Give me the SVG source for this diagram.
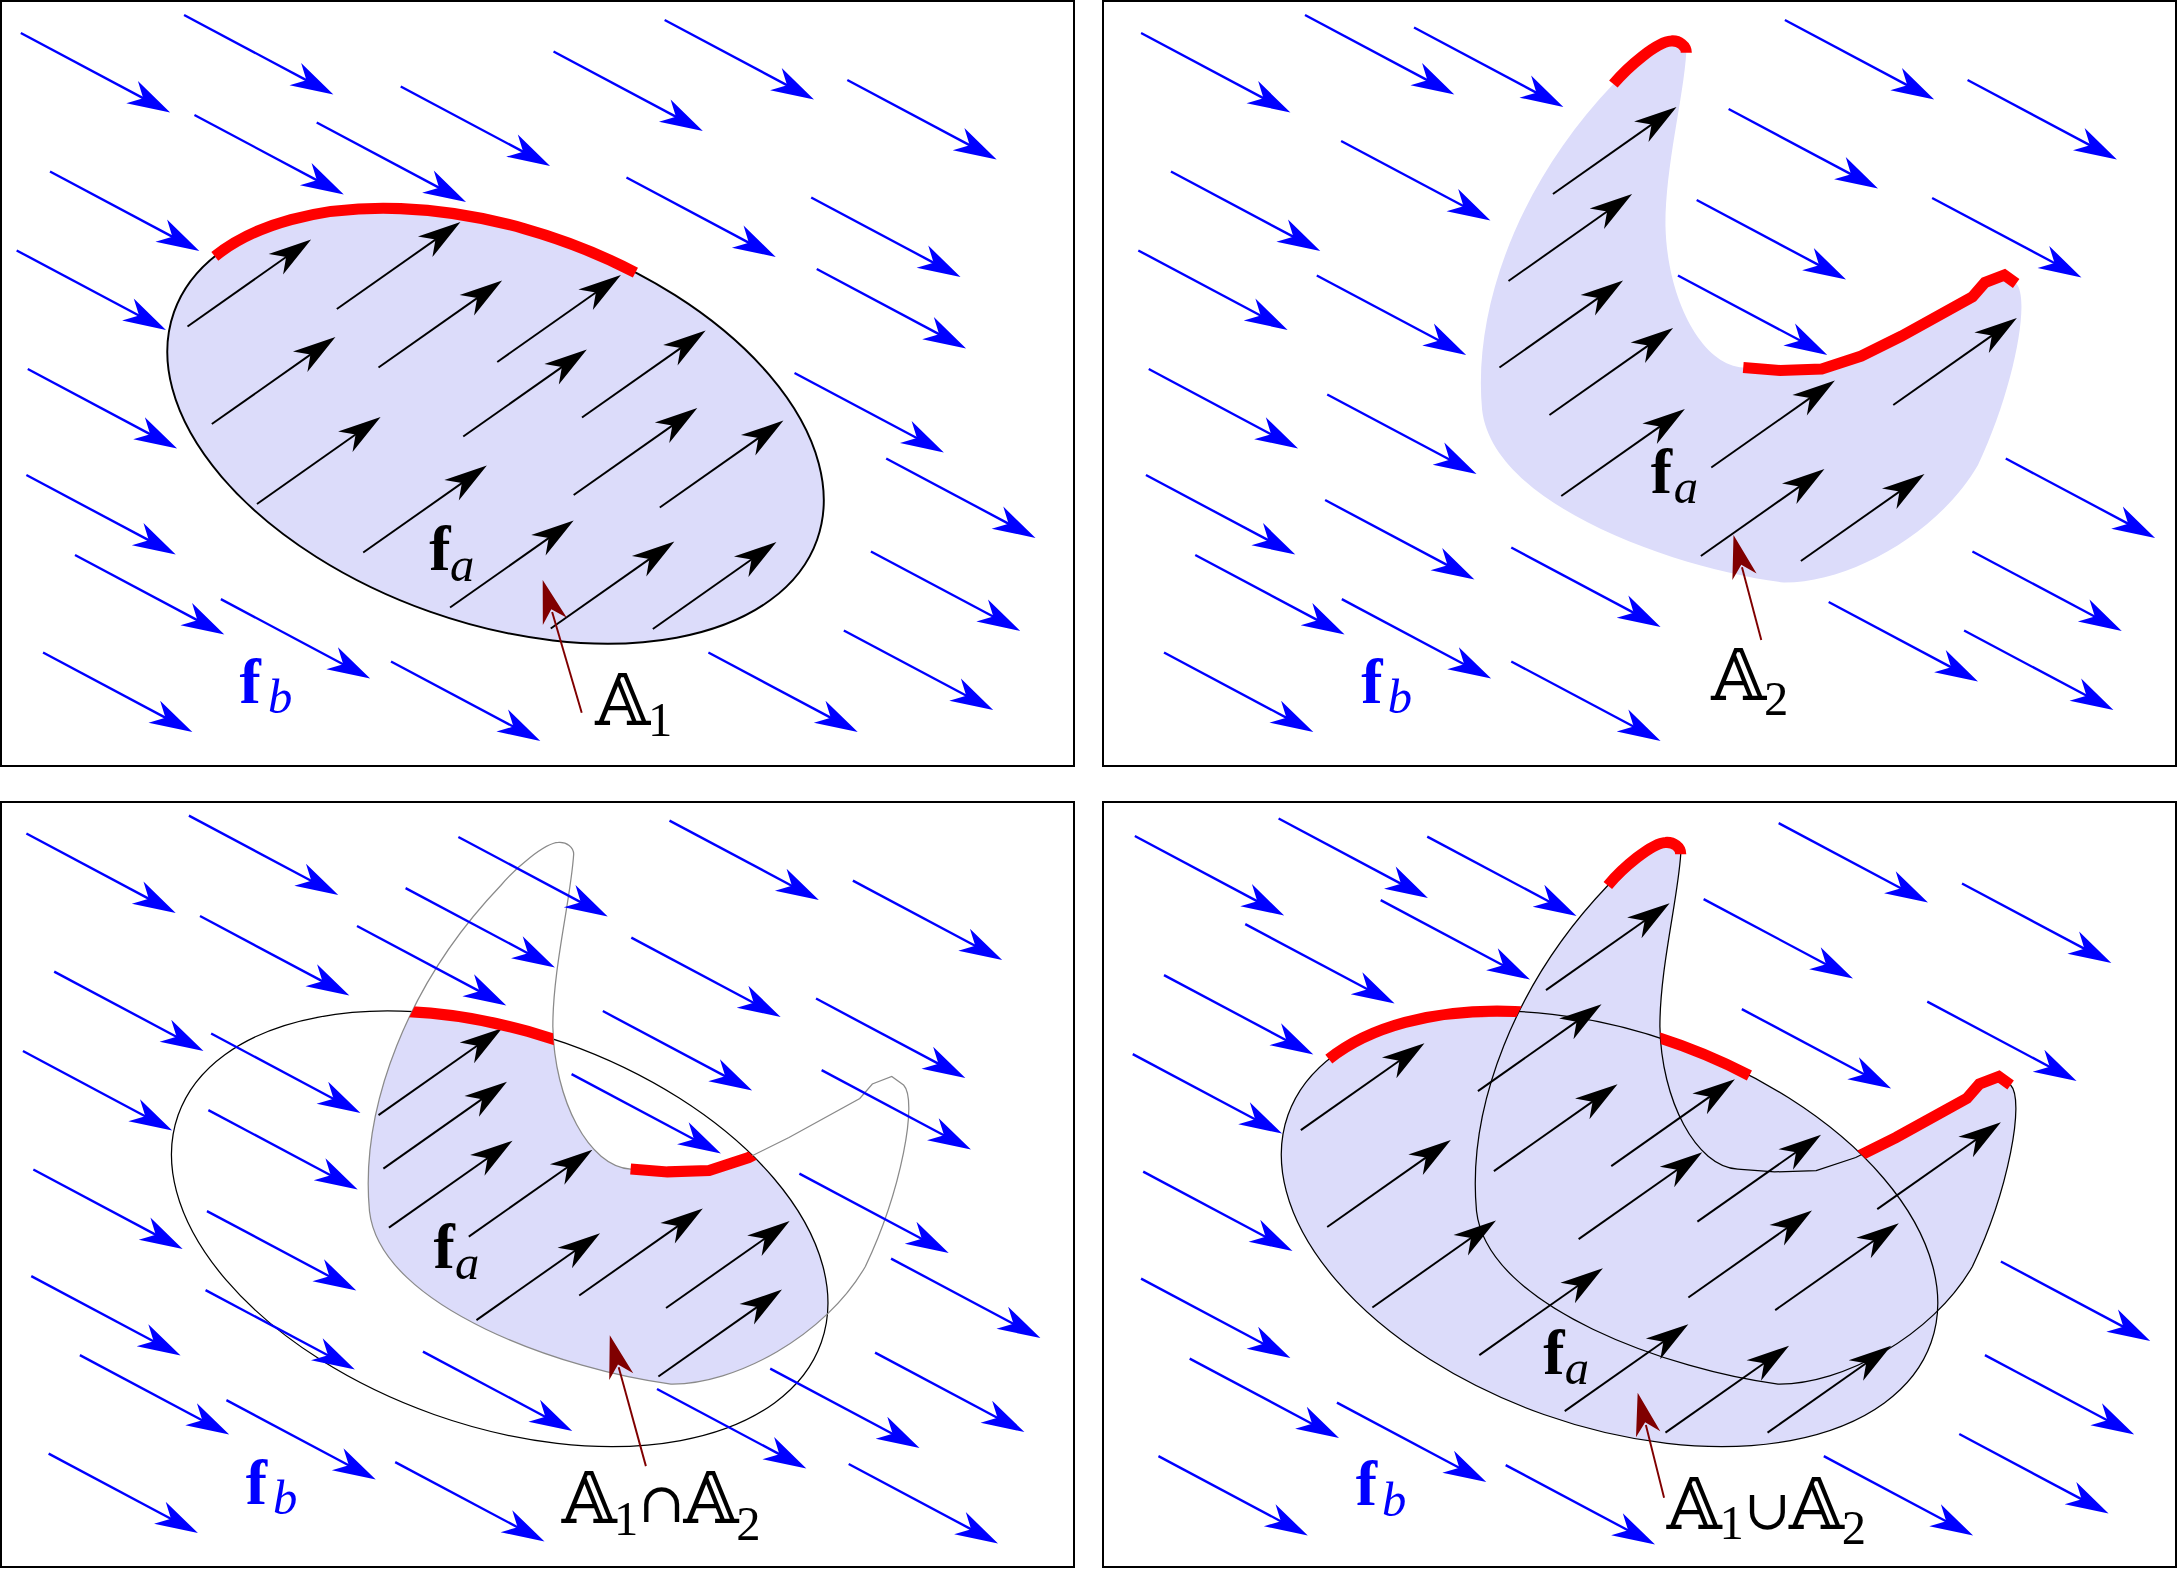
<svg xmlns="http://www.w3.org/2000/svg" width="2178" height="1570" viewBox="0 0 2178 1570">
<style>
.frame{fill:none;stroke:#000;stroke-width:2}
.red{fill:none;stroke:#ff0000;stroke-width:8}
.ptr{stroke:#800000;stroke-width:1.4;fill:none}
.ptrh{fill:#800000;stroke:none}
.fb{font-family:"Liberation Serif",serif;font-weight:bold;font-size:46px}
.it{font-family:"Liberation Serif",serif;font-style:italic;font-size:35px}
.bb{font-family:"DejaVu Serif","DejaVu Sans",serif;font-size:51px}
.sub{font-family:"Liberation Serif",serif;font-size:35px}
.op{font-family:"DejaVu Serif","DejaVu Sans",serif;font-size:40px}
.blue{fill:#0000ff}
</style>
<defs>
<g id="ab"><path d="M0,0 L89,47.4" fill="none" stroke="#0000ff" stroke-width="1.7"/><path d="M107.5,57.2 L84.3,34.6 L88.1,46.9 L75.9,50.5 Z" fill="#0000ff"/></g>
<g id="ak"><path d="M0,0 L72,-50.7" fill="none" stroke="#000" stroke-width="1.4"/><path d="M89,-62.6 L58.4,-52.2 L71,-50 L68.8,-37.4 Z" fill="#000"/></g>
<path id="E" d="M588.25,388.55 A245.5,141.7 19.48 1 0 125.25,224.75 A245.5,141.7 19.48 1 0 588.25,388.55 Z"/>
<path id="A" d="M1161.5,60.5 C1172,48 1193,30 1203,29.5 C1209,29 1214,33 1214,38 C1212,70 1199,120 1199,162 C1200,215 1225,263 1255,264.6 L1281.5,266.7 L1311.5,265.7 L1340,256.3 L1369,241.9 L1420,213.8 L1429,203.4 L1443,198 L1451.5,204.1 C1462,215 1450,280 1424,334.8 C1395,385 1330,420 1284,419.4 C1210,410 1075,365 1067,295 C1060,220 1095,130 1161.5,60.5 Z"/>
<path id="R" d="M154.65,184.55 A245.5,141.7 19.48 0 1 457.45,196.25"/>
<path id="RA" d="M1161.5,60.5 C1172,48 1193,30 1203,29.5 C1209,29 1214,33 1214,38 M1255,264.6 L1281.5,266.7 L1311.5,265.7 L1340,256.3 L1369,241.9 L1420,213.8 L1429,203.4 L1443,198 L1451.5,204.1"/>
<clipPath id="cE_BL"><path transform="translate(3,578)" d="M588.25,388.55 A245.5,141.7 19.48 1 0 125.25,224.75 A245.5,141.7 19.48 1 0 588.25,388.55 Z"/></clipPath>
<clipPath id="cA_BL"><path transform="translate(-801,577)" d="M1161.5,60.5 C1172,48 1193,30 1203,29.5 C1209,29 1214,33 1214,38 C1212,70 1199,120 1199,162 C1200,215 1225,263 1255,264.6 L1281.5,266.7 L1311.5,265.7 L1340,256.3 L1369,241.9 L1420,213.8 L1429,203.4 L1443,198 L1451.5,204.1 C1462,215 1450,280 1424,334.8 C1395,385 1330,420 1284,419.4 C1210,410 1075,365 1067,295 C1060,220 1095,130 1161.5,60.5 Z"/></clipPath>
<clipPath id="cEout_BR"><path transform="translate(802,578)" clip-rule="evenodd" d="M-3000,-3000 H6000 V6000 H-3000 Z M588.25,388.55 A245.5,141.7 19.48 1 0 125.25,224.75 A245.5,141.7 19.48 1 0 588.25,388.55 Z"/></clipPath>
<clipPath id="cAout_BR"><path transform="translate(-4,577)" clip-rule="evenodd" d="M-3000,-3000 H6000 V6000 H-3000 Z M1161.5,60.5 C1172,48 1193,30 1203,29.5 C1209,29 1214,33 1214,38 C1212,70 1199,120 1199,162 C1200,215 1225,263 1255,264.6 L1281.5,266.7 L1311.5,265.7 L1340,256.3 L1369,241.9 L1420,213.8 L1429,203.4 L1443,198 L1451.5,204.1 C1462,215 1450,280 1424,334.8 C1395,385 1330,420 1284,419.4 C1210,410 1075,365 1067,295 C1060,220 1095,130 1161.5,60.5 Z"/></clipPath>
</defs>
<rect width="2178" height="1570" fill="#fff"/>
<g id="frames">
<rect class="frame" x="1" y="1" width="1073" height="765"/>
<rect class="frame" x="1103" y="1" width="1073" height="765"/>
<rect class="frame" x="1" y="802" width="1073" height="765"/>
<rect class="frame" x="1103" y="802" width="1073" height="765"/>
</g>
<g transform="scale(1.38903)">
<g id="panel-A1">
<use href="#E" fill="#dcdcfa" stroke="#000" stroke-width="1.4"/>
<g id="fb-A1">
<use href="#ab" x="15" y="23.8"/><use href="#ab" x="132.5" y="10.8"/><use href="#ab" x="478.5" y="14.4"/><use href="#ab" x="398.5" y="37.1"/><use href="#ab" x="610" y="57.6"/><use href="#ab" x="140" y="82.8"/><use href="#ab" x="228" y="88.2"/><use href="#ab" x="288.5" y="62.3"/><use href="#ab" x="36" y="123.5"/><use href="#ab" x="451" y="127.8"/><use href="#ab" x="584" y="142.2"/><use href="#ab" x="588" y="193.7"/><use href="#ab" x="12" y="180.3"/><use href="#ab" x="20" y="265.7"/><use href="#ab" x="572" y="268.5"/><use href="#ab" x="638" y="330.1"/><use href="#ab" x="19" y="342"/><use href="#ab" x="627" y="397"/><use href="#ab" x="54" y="399.6"/><use href="#ab" x="159" y="431.3"/><use href="#ab" x="31" y="469.8"/><use href="#ab" x="281.5" y="476.2"/><use href="#ab" x="510" y="469.8"/><use href="#ab" x="607.5" y="453.9"/>
</g>
<g id="fa-A1">
<use href="#ak" x="135" y="235"/><use href="#ak" x="242.5" y="222.5"/><use href="#ak" x="152.5" y="305.3"/><use href="#ak" x="272.5" y="264.6"/><use href="#ak" x="358" y="260.6"/><use href="#ak" x="185" y="362.8"/><use href="#ak" x="333.5" y="314.3"/><use href="#ak" x="419" y="300.6"/><use href="#ak" x="261.5" y="397.8"/><use href="#ak" x="413" y="356.4"/><use href="#ak" x="475" y="365.4"/><use href="#ak" x="324" y="437.4"/><use href="#ak" x="396.5" y="452.5"/><use href="#ak" x="470" y="452.8"/>
</g>
<use href="#R" class="red"/>
<path class="ptr" d="M418.8,513.1 L397.5,440.6"/><path class="ptrh" d="M390.7,417.6 L408.1,444.8 L396.9,438.7 L390.8,449.9 Z"/>
<text class="fb" x="309" y="410.4">f<tspan class="it" font-weight="normal" x="324" y="418.3">a</tspan></text>
<text class="fb blue" x="172.5" y="506.1">f<tspan class="it" font-weight="normal" x="193" y="513.1">b</tspan></text>
<text class="bb" x="428.5" y="522">𝔸<tspan class="sub" x="466.5" y="529.7">1</tspan></text>
</g>
<g id="panel-A2">
<use href="#A" fill="#dcdcfa"/>
<g id="fb-A2">
<use href="#ab" x="821.5" y="23.8"/><use href="#ab" x="939.5" y="10.8"/><use href="#ab" x="1018" y="19.8"/><use href="#ab" x="1285" y="14.4"/><use href="#ab" x="1416.5" y="57.6"/><use href="#ab" x="965.5" y="101.5"/><use href="#ab" x="1244.5" y="78.5"/><use href="#ab" x="843" y="123.5"/><use href="#ab" x="1391" y="142.5"/><use href="#ab" x="1221.5" y="144"/><use href="#ab" x="819.5" y="180.3"/><use href="#ab" x="948" y="198.3"/><use href="#ab" x="1208" y="198.3"/><use href="#ab" x="827" y="265.7"/><use href="#ab" x="955.5" y="284"/><use href="#ab" x="1444" y="330.1"/><use href="#ab" x="825" y="342"/><use href="#ab" x="954" y="360"/><use href="#ab" x="1088" y="394.2"/><use href="#ab" x="1420" y="397"/><use href="#ab" x="860.5" y="399.6"/><use href="#ab" x="966" y="431.3"/><use href="#ab" x="1316.5" y="433.4"/><use href="#ab" x="1414" y="453.9"/><use href="#ab" x="838" y="469.8"/><use href="#ab" x="1088" y="476.2"/>
</g>
<g id="fa-A2">
<use href="#ak" x="1118" y="139.7"/><use href="#ak" x="1086" y="202.3"/><use href="#ak" x="1079.5" y="264.6"/><use href="#ak" x="1115.5" y="298.8"/><use href="#ak" x="1124" y="357.1"/><use href="#ak" x="1232" y="336.6"/><use href="#ak" x="1363" y="291.6"/><use href="#ak" x="1224.5" y="400.3"/><use href="#ak" x="1296.5" y="403.9"/>
</g>
<use href="#RA" class="red"/>
<path class="ptr" d="M1268,460.8 L1254.1,408.4"/><path class="ptrh" d="M1248,385.2 L1264.6,412.9 L1253.6,406.5 L1247.2,417.5 Z"/>
<text class="fb" x="1188.5" y="354.6">f<tspan class="it" font-weight="normal" x="1205" y="361.8">a</tspan></text>
<text class="fb blue" x="980" y="505.8">f<tspan class="it" font-weight="normal" x="999" y="513">b</tspan></text>
<text class="bb" x="1232" y="504">𝔸<tspan class="sub" x="1270" y="514.8">2</tspan></text>
</g>
<g id="panel-intersection">
<g clip-path="url(#cE_BL)"><use href="#A" transform="translate(-801,577)" fill="#dcdcfa"/></g>
<use href="#E" transform="translate(3,578)" fill="none" stroke="#000" stroke-width="0.9"/>
<use href="#A" transform="translate(-801,577)" fill="none" stroke="#8a8a8a" stroke-width="0.9"/>
<g id="fb-int">
<use href="#ab" x="19" y="600.1"/><use href="#ab" x="136" y="587.2"/><use href="#ab" x="330" y="602.6"/><use href="#ab" x="482" y="590.8"/><use href="#ab" x="614" y="634"/><use href="#ab" x="144" y="659.5"/><use href="#ab" x="292" y="639.4"/><use href="#ab" x="257" y="666.7"/><use href="#ab" x="454.5" y="675"/><use href="#ab" x="39" y="699.5"/><use href="#ab" x="587.5" y="718.9"/><use href="#ab" x="152" y="744.1"/><use href="#ab" x="434" y="727.9"/><use href="#ab" x="16.5" y="756.7"/><use href="#ab" x="591.5" y="770.4"/><use href="#ab" x="150" y="799.2"/><use href="#ab" x="411.5" y="773.3"/><use href="#ab" x="24" y="842"/><use href="#ab" x="575.5" y="844.9"/><use href="#ab" x="149" y="871.9"/><use href="#ab" x="641.5" y="906.1"/><use href="#ab" x="22.5" y="918.7"/><use href="#ab" x="148" y="928.8"/><use href="#ab" x="304.5" y="973.1"/><use href="#ab" x="630" y="973.8"/><use href="#ab" x="57.5" y="975.6"/><use href="#ab" x="473" y="1000"/><use href="#ab" x="554.5" y="985.3"/><use href="#ab" x="163" y="1008"/><use href="#ab" x="35" y="1046.5"/><use href="#ab" x="284.5" y="1052.6"/><use href="#ab" x="611" y="1054"/>
</g>
<g id="fa-int">
<use href="#ak" x="272.5" y="802.8"/><use href="#ak" x="276" y="841.3"/><use href="#ak" x="280" y="883.8"/><use href="#ak" x="337.5" y="890.3"/><use href="#ak" x="343" y="950.4"/><use href="#ak" x="417" y="932.7"/><use href="#ak" x="479.5" y="941.7"/><use href="#ak" x="474" y="991"/>
</g>
<g clip-path="url(#cA_BL)"><use href="#R" transform="translate(3,578)" class="red"/></g>
<g clip-path="url(#cE_BL)"><use href="#RA" transform="translate(-801,577)" class="red"/></g>
<path class="ptr" d="M465,1055.5 L445.4,984.3"/><path class="ptrh" d="M439,961.2 L455.9,988.7 L444.9,982.4 L438.6,993.5 Z"/>
<text class="fb" x="312" y="912.6">f<tspan class="it" font-weight="normal" x="327.5" y="920.9">a</tspan></text>
<text class="fb blue" x="177" y="1082.5">f<tspan class="it" font-weight="normal" x="196.5" y="1089.7">b</tspan></text>
<text class="bb" x="404.5" y="1096.5">𝔸<tspan class="sub" x="442" y="1105">1</tspan><tspan class="op" x="459.5" y="1095.5">∩</tspan><tspan x="492" y="1096.5">𝔸</tspan><tspan class="sub" x="530" y="1108.7">2</tspan></text>
</g>
<g id="panel-union">
<use href="#E" transform="translate(802,578)" fill="#dcdcfa"/>
<use href="#A" transform="translate(-4,577)" fill="#dcdcfa"/>
<use href="#E" transform="translate(802,578)" fill="none" stroke="#000" stroke-width="0.9"/>
<use href="#A" transform="translate(-4,577)" fill="none" stroke="#000" stroke-width="0.9"/>
<g id="fb-uni">
<use href="#ab" x="817" y="601.9"/><use href="#ab" x="920.5" y="589.3"/><use href="#ab" x="1027.5" y="602.3"/><use href="#ab" x="1280.5" y="592.6"/><use href="#ab" x="1412.5" y="636.1"/><use href="#ab" x="896.5" y="665.3"/><use href="#ab" x="994" y="648"/><use href="#ab" x="1226.5" y="647.3"/><use href="#ab" x="838" y="702"/><use href="#ab" x="1254" y="726.5"/><use href="#ab" x="1387.5" y="721.1"/><use href="#ab" x="815.5" y="758.9"/><use href="#ab" x="823" y="843.5"/><use href="#ab" x="1440.5" y="908.2"/><use href="#ab" x="821.5" y="920.5"/><use href="#ab" x="1429" y="975.6"/><use href="#ab" x="856.5" y="978.1"/><use href="#ab" x="962.5" y="1009.8"/><use href="#ab" x="1410.5" y="1032.4"/><use href="#ab" x="834" y="1048.3"/><use href="#ab" x="1084" y="1054.8"/><use href="#ab" x="1313" y="1048.3"/>
</g>
<g id="fa-uni">
<use href="#ak" x="1113" y="712.8"/><use href="#ak" x="1064" y="785.5"/><use href="#ak" x="936.5" y="813.6"/><use href="#ak" x="1075.5" y="843.1"/><use href="#ak" x="1160" y="839.5"/><use href="#ak" x="955.5" y="883.4"/><use href="#ak" x="1136.5" y="892.1"/><use href="#ak" x="1222" y="879.5"/><use href="#ak" x="988" y="941.3"/><use href="#ak" x="1351.5" y="870.5"/><use href="#ak" x="1215.5" y="934.1"/><use href="#ak" x="1278" y="943.2"/><use href="#ak" x="1065" y="975.6"/><use href="#ak" x="1126.5" y="1015.9"/><use href="#ak" x="1199" y="1031.4"/><use href="#ak" x="1272.5" y="1031.4"/>
</g>
<g clip-path="url(#cAout_BR)"><use href="#R" transform="translate(802,578)" class="red"/></g>
<g clip-path="url(#cEout_BR)"><use href="#RA" transform="translate(-4,577)" class="red"/></g>
<path class="ptr" d="M1198,1078.2 L1184.9,1025.9"/><path class="ptrh" d="M1179,1002.6 L1195.3,1030.4 L1184.4,1023.9 L1177.8,1034.8 Z"/>
<text class="fb" x="1111" y="989.3">f<tspan class="it" font-weight="normal" x="1126.5" y="996.4">a</tspan></text>
<text class="fb blue" x="976" y="1083.6">f<tspan class="it" font-weight="normal" x="995" y="1091.5">b</tspan></text>
<text class="bb" x="1200" y="1101">𝔸<tspan class="sub" x="1238" y="1108.2">1</tspan><tspan class="op" x="1255.5" y="1101">∪</tspan><tspan x="1288" y="1101">𝔸</tspan><tspan class="sub" x="1326" y="1111.6">2</tspan></text>
</g>
</g>
</svg>
